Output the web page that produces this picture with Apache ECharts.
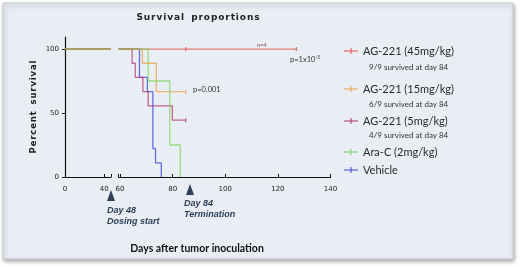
<!DOCTYPE html>
<html>
<head>
<meta charset="utf-8">
<script src="https://cdn.jsdelivr.net/npm/echarts@6/dist/echarts.min.js"></script>
<style>
  html, body { margin: 0; padding: 0; background: #fff; }
  #chart { width: 520px; height: 267px; }
</style>
</head>
<body>
<div id="chart"></div>
<script>
const groups = ['AG-221 (45mg/kg)', 'AG-221 (15mg/kg)', 'AG-221 (5mg/kg)', 'Ara-C (2mg/kg)', 'Vehicle']
const colors = ['#e4534f', '#f0a14a', '#b0356c', '#7dd35b', '#3b40d6']
const notes = ['9/9 survived at day 84', '6/9 survived at day 84', '4/9 survived at day 84', '', '']

// left part of the broken axis: everyone alive
const preDays = [0, 47]
const preSurvival = [100, 100]

// Kaplan-Meier steps [day, % survival] after the break
const ag45 = [[59.5, 100], [85, 100], [127, 100]]
const ag15 = [[59.5, 100], [68.5, 88.9], [73.8, 66.7], [85, 66.7]]
const ag5 = [[59.5, 100], [64.6, 88.9], [65.8, 77.8], [68.7, 66.7], [70.7, 55.6], [79.9, 44.4], [85, 44.4]]
const araC = [[59.5, 100], [70.7, 75], [78.9, 25], [82.9, 0]]
const vehicle = [[59.5, 100], [67.4, 77.8], [70.4, 66.7], [72.5, 22.2], [73.5, 11.1], [75.7, 0]]
const steps = [ag45, ag15, ag5, araC, vehicle]
// censored days (tick marks)
const censored = [[85, 127], [85], [85], [], []]

const leftTicks = [0, 40]
const rightTicks = [60, 80, 100, 120, 140]
const yTicks = [0, 50, 100]

const chart = echarts.init(document.getElementById('chart'))

const tickFont = {
  color: '#222',
  fontSize: 7,
  fontFamily: 'DejaVu Sans',
}

const series = []
// draw order so the overlapping lines blend roughly like the picture
const order = [4, 2, 1, 0, 3]
order.forEach((g) => {
  series.push({
    name: groups[g],
    type: 'line',
    xAxisIndex: 0,
    yAxisIndex: 0,
    symbol: 'none',
    lineStyle: { color: colors[g], width: 1.3, opacity: 0.75 },
    itemStyle: { color: colors[g] },
    data: preDays.map((d, i) => [d, preSurvival[i]]),
    silent: true,
  })
  series.push({
    name: groups[g],
    type: 'line',
    xAxisIndex: 1,
    yAxisIndex: 1,
    step: 'end',
    symbol: 'none',
    showSymbol: true,
    lineStyle: { color: colors[g], width: 1.3, opacity: 0.75 },
    itemStyle: { color: colors[g] },
    data: steps[g].map((p) => {
      if (censored[g].indexOf(p[0]) >= 0) {
        return { value: p, symbol: 'rect', symbolSize: [1, 4] }
      }
      return p
    }),
    silent: true,
  })
})

const legendTops = [51, 89, 121, 152, 170]
const legends = groups.map((name, i) => ({
  data: [name],
  left: 344,
  top: legendTops[i] - 6,
  padding: 0,
  itemWidth: 14,
  itemHeight: 6,
  itemGap: 6,
  icon: 'path://M0,2.5h14v1h-14z M6.5,0h1v6h-1z',
  selectedMode: false,
  textStyle: {
    color: '#2a2a2a',
    fontSize: 11,
    lineHeight: 12,
    fontFamily: 'Lato',
  },
}))

const noteTops = [67, 104, 135]
const graphics = [
  {
    type: 'rect',
    z: -10,
    shape: { x: 3, y: 3, width: 510, height: 256 },
    style: {
      fill: '#e9eef5',
      stroke: '#c9cdd3',
      lineWidth: 1,
      shadowBlur: 4,
      shadowOffsetX: 1,
      shadowOffsetY: 2,
      shadowColor: 'rgba(0,0,0,0.35)',
    },
  },
  {
    type: 'text',
    x: 198,
    y: 18,
    style: {
      text: 'S u r v i v a l   p r o p o r t i o n s'.replace(/ (?! )/g, '\u200a'),
      align: 'center',
      verticalAlign: 'middle',
      fill: '#222',
      font: 'bold 9px "DejaVu Sans"',
    },
  },
  {
    type: 'text',
    x: 197,
    y: 249,
    style: {
      text: 'Days after tumor inoculation',
      align: 'center',
      verticalAlign: 'middle',
      fill: '#111',
      font: 'bold 10.5px Lato',
    },
  },
  {
    type: 'text',
    x: 193,
    y: 90,
    style: { text: 'p=0.001', verticalAlign: 'middle', fill: '#333', font: '7.5px Lato' },
  },
  {
    type: 'text',
    x: 290,
    y: 60,
    style: {
      text: '{a|p=1x10}{b|-5}',
      verticalAlign: 'middle',
      rich: {
        a: { fill: '#333', font: '7.5px Lato' },
        b: { fill: '#333', font: '5px Lato', verticalAlign: 'top', padding: [0, 0, 5, 0] },
      },
    },
  },
  {
    type: 'text',
    x: 257,
    y: 45,
    style: { text: 'n=4', verticalAlign: 'middle', fill: '#8a4848', font: '5.5px Lato' },
  },
  // dosing start / termination markers
  {
    type: 'polygon',
    shape: { points: [[111, 190], [107, 201], [115, 201]] },
    style: { fill: '#2d4159' },
  },
  {
    type: 'polygon',
    shape: { points: [[190, 184], [186, 195], [194, 195]] },
    style: { fill: '#2d4159' },
  },
  {
    type: 'text',
    x: 107,
    y: 211,
    style: { text: 'Day 48', verticalAlign: 'middle', fill: '#2e4157', font: 'italic bold 9px "Liberation Sans"' },
  },
  {
    type: 'text',
    x: 107,
    y: 222,
    style: { text: 'Dosing start', verticalAlign: 'middle', fill: '#2e4157', font: 'italic bold 9px "Liberation Sans"' },
  },
  {
    type: 'text',
    x: 184,
    y: 204,
    style: { text: 'Day 84', verticalAlign: 'middle', fill: '#2e4157', font: 'italic bold 9px "Liberation Sans"' },
  },
  {
    type: 'text',
    x: 184,
    y: 215,
    style: { text: 'Termination', verticalAlign: 'middle', fill: '#2e4157', font: 'italic bold 9px "Liberation Sans"' },
  },
]
notes.forEach((t, i) => {
  if (!t) return
  graphics.push({
    type: 'text',
    x: 369,
    y: noteTops[i],
    style: { text: t, verticalAlign: 'middle', fill: '#333', font: '8px Lato' },
  })
})

const option = {
  animation: false,
  legend: legends,
  graphic: graphics,
  grid: [
    { left: 65, top: 37, width: 46, height: 140 },
    { left: 118.7, top: 37, width: 211.8, height: 140 },
  ],
  xAxis: [
    {
      gridIndex: 0,
      type: 'value',
      min: 0,
      max: 47,
      splitLine: { show: false },
      axisLine: { lineStyle: { color: '#111', width: 1.2 } },
      axisTick: { inside: true, length: 3, lineStyle: { color: '#111' }, customValues: [40, 47] },
      axisLabel: { ...tickFont, margin: 9, customValues: leftTicks },
    },
    {
      gridIndex: 1,
      type: 'value',
      min: 59.5,
      max: 140,
      splitLine: { show: false },
      axisLine: { lineStyle: { color: '#111', width: 1.2 } },
      axisTick: { inside: true, length: 3, lineStyle: { color: '#111' }, customValues: [59.5].concat(rightTicks) },
      axisLabel: { ...tickFont, margin: 9, customValues: rightTicks },
    },
  ],
  yAxis: [
    {
      gridIndex: 0,
      type: 'value',
      min: 0,
      max: 109.4,
      name: 'P e r c e n t   s u r v i v a l'.replace(/ (?! )/g, '\u200a'),
      nameLocation: 'middle',
      nameGap: 27,
      nameTextStyle: { color: '#222', fontSize: 8.5, fontWeight: 'bold', fontFamily: 'DejaVu Sans' },
      splitLine: { show: false },
      axisLine: { show: true, lineStyle: { color: '#111', width: 1.2 } },
      axisTick: { length: 3, lineStyle: { color: '#111' }, customValues: yTicks },
      axisLabel: { ...tickFont, margin: 6, customValues: yTicks },
    },
    {
      gridIndex: 1,
      type: 'value',
      min: 0,
      max: 109.4,
      show: false,
    },
  ],
  series: series,
}
chart.setOption(option)
</script>
</body>
</html>
